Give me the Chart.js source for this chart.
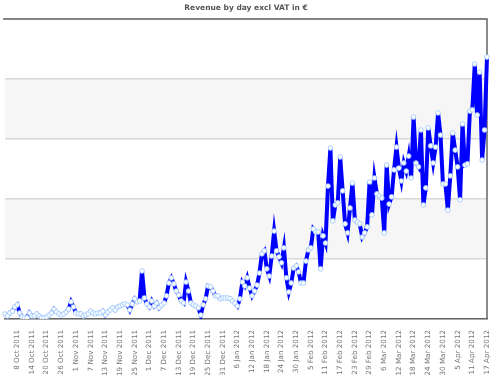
<!DOCTYPE html>
<html>
<head>
<meta charset="utf-8">
<script src="https://cdn.jsdelivr.net/npm/chart.js@4"></script>
<style>
  html, body { margin: 0; padding: 0; background: #fff; overflow: hidden; }
  #wrap { position: relative; width: 500px; height: 379px; }
</style>
</head>
<body>
<div id="wrap"><canvas id="chart"></canvas></div>
<script>
// Daily revenue excl VAT, 3 Oct 2011 .. 17 Apr 2012
const START_DATE = [2011, 9, 3];
const MONTHS = ['Jan', 'Feb', 'Mar', 'Apr', 'May', 'Jun', 'Jul', 'Aug', 'Sep', 'Oct', 'Nov', 'Dec'];

const REVENUE = [
  83, 50, 100, 130, 200, 235, 100, 35, 20, 20,
  100, 50, 50, 85, 50, 20, 20, 35, 65, 100,
  165, 115, 85, 65, 85, 115, 165, 285, 200, 100,
  85, 85, 50, 65, 85, 130, 100, 85, 100, 100,
  130, 65, 115, 150, 185, 150, 200, 215, 235, 250,
  235, 150, 250, 335, 285, 300, 800, 350, 250, 200,
  300, 215, 265, 185, 235, 265, 385, 600, 685, 585,
  465, 400, 300, 265, 615, 465, 265, 235, 215, 185,
  65, 235, 335, 550, 535, 465, 385, 385, 335, 350,
  350, 350, 340, 300, 265, 215, 335, 615, 550, 685,
  515, 385, 465, 565, 765, 1085, 1135, 835, 715, 1050,
  1465, 1135, 1035, 935, 1185, 685, 450, 600, 850, 885,
  785, 600, 600, 965, 1150, 1185, 1500, 1450, 1450, 835,
  1385, 1265, 2215, 2850, 1635, 1900, 1935, 2700, 2135, 1585,
  1435, 1850, 2265, 1650, 1615, 1585, 1365, 1435, 1535, 2285,
  1735, 2350, 2085, 2050, 2015, 1435, 2565, 1915, 2035, 2485,
  2865, 2515, 2300, 2600, 2465, 2715, 2350, 3365, 2600, 2535,
  3150, 1900, 2185, 3185, 2885, 2600, 2865, 3435, 3065, 2250,
  2250, 1815, 2385, 3100, 2815, 2535, 1985, 3250, 2565, 2585,
  3465, 3485, 4250, 3400, 4115, 2650, 3150, 4365
];

const TICK_LABELS = [
  '8 Oct 2011', '14 Oct 2011', '20 Oct 2011', '26 Oct 2011',
  '1 Nov 2011', '7 Nov 2011', '13 Nov 2011', '19 Nov 2011', '25 Nov 2011',
  '1 Dec 2011', '7 Dec 2011', '13 Dec 2011', '19 Dec 2011', '25 Dec 2011', '31 Dec 2011',
  '6 Jan 2012', '12 Jan 2012', '18 Jan 2012', '24 Jan 2012', '30 Jan 2012',
  '5 Feb 2012', '11 Feb 2012', '17 Feb 2012', '23 Feb 2012', '29 Feb 2012',
  '6 Mar 2012', '12 Mar 2012', '18 Mar 2012', '24 Mar 2012', '30 Mar 2012',
  '5 Apr 2012', '11 Apr 2012', '17 Apr 2012'
];

const Y_MAX = 5000;
const Y_STEP = 1000;

// one category per day
const days = REVENUE.map((_, i) => {
  const d = new Date(Date.UTC(START_DATE[0], START_DATE[1], START_DATE[2] + i));
  return d.getUTCDate() + ' ' + MONTHS[d.getUTCMonth()] + ' ' + d.getUTCFullYear();
});

// alternating grey bands + frame around the plot
const bandsPlugin = {
  id: 'bands',
  beforeDraw(chart) {
    const { ctx, chartArea: a, scales: { y } } = chart;
    ctx.save();
    ctx.fillStyle = '#f6f6f6';
    for (let v = Y_STEP; v < Y_MAX; v += 2 * Y_STEP) {
      const top = y.getPixelForValue(v + Y_STEP);
      const bot = y.getPixelForValue(v);
      ctx.fillRect(a.left, top, a.right - a.left, bot - top);
    }
    ctx.restore();
  },
  beforeDatasetsDraw(chart) {
    const { ctx, chartArea: a } = chart;
    ctx.save();
    ctx.strokeStyle = '#666';
    ctx.lineWidth = 1.5;
    ctx.beginPath();
    ctx.moveTo(a.left - 2, a.top);
    ctx.lineTo(a.right, a.top);
    ctx.lineTo(a.right, a.bottom);
    ctx.stroke();
    ctx.restore();
  }
};

const ctx = document.getElementById('chart').getContext('2d');
new Chart(ctx, {
  type: 'line',
  data: {
    labels: days,
    datasets: [{
      label: 'Revenue',
      data: REVENUE,
      borderColor: '#0000ff',
      borderWidth: 4,
      tension: 0,
      pointRadius: 2.3,
      pointBorderWidth: 1,
      pointBackgroundColor: '#ffffff',
      pointBorderColor: '#a8d0ff',
    }],
  },
  options: {
    responsive: true,
    maintainAspectRatio: false,
    animation: false,
    layout: { padding: { left: 0, right: 13, top: 0, bottom: 0 } },
    plugins: {
      legend: { display: false },
      tooltip: { enabled: false },
      title: {
        display: true,
        text: 'Revenue by day excl VAT in €',
        color: '#555',
        fullSize: false,
        font: { family: 'DejaVu Sans', size: 7.5, weight: 'bold' },
        padding: { top: 4, bottom: 6 },
      },
    },
    scales: {
      x: {
        offset: false,
        grid: { display: false },
        border: { display: true, color: '#666', width: 1.5 },
        ticks: {
          autoSkip: false,
          minRotation: 90,
          maxRotation: 90,
          padding: 3,
          color: '#777',
          font: { family: 'DejaVu Sans', size: 7.2 },
          callback: function (value) {
            const lab = this.getLabelForValue(value);
            return TICK_LABELS.includes(lab) ? lab : '';
          },
        },
      },
      y: {
        min: 0,
        max: Y_MAX,
        ticks: { display: false, stepSize: Y_STEP },
        border: { display: false },
        grid: { color: '#d8d8d8', lineWidth: 1.5, drawTicks: false },
        afterFit(scale) { scale.width = 0; },
      },
    },
  },
  plugins: [bandsPlugin],
});
</script>
</body>
</html>
